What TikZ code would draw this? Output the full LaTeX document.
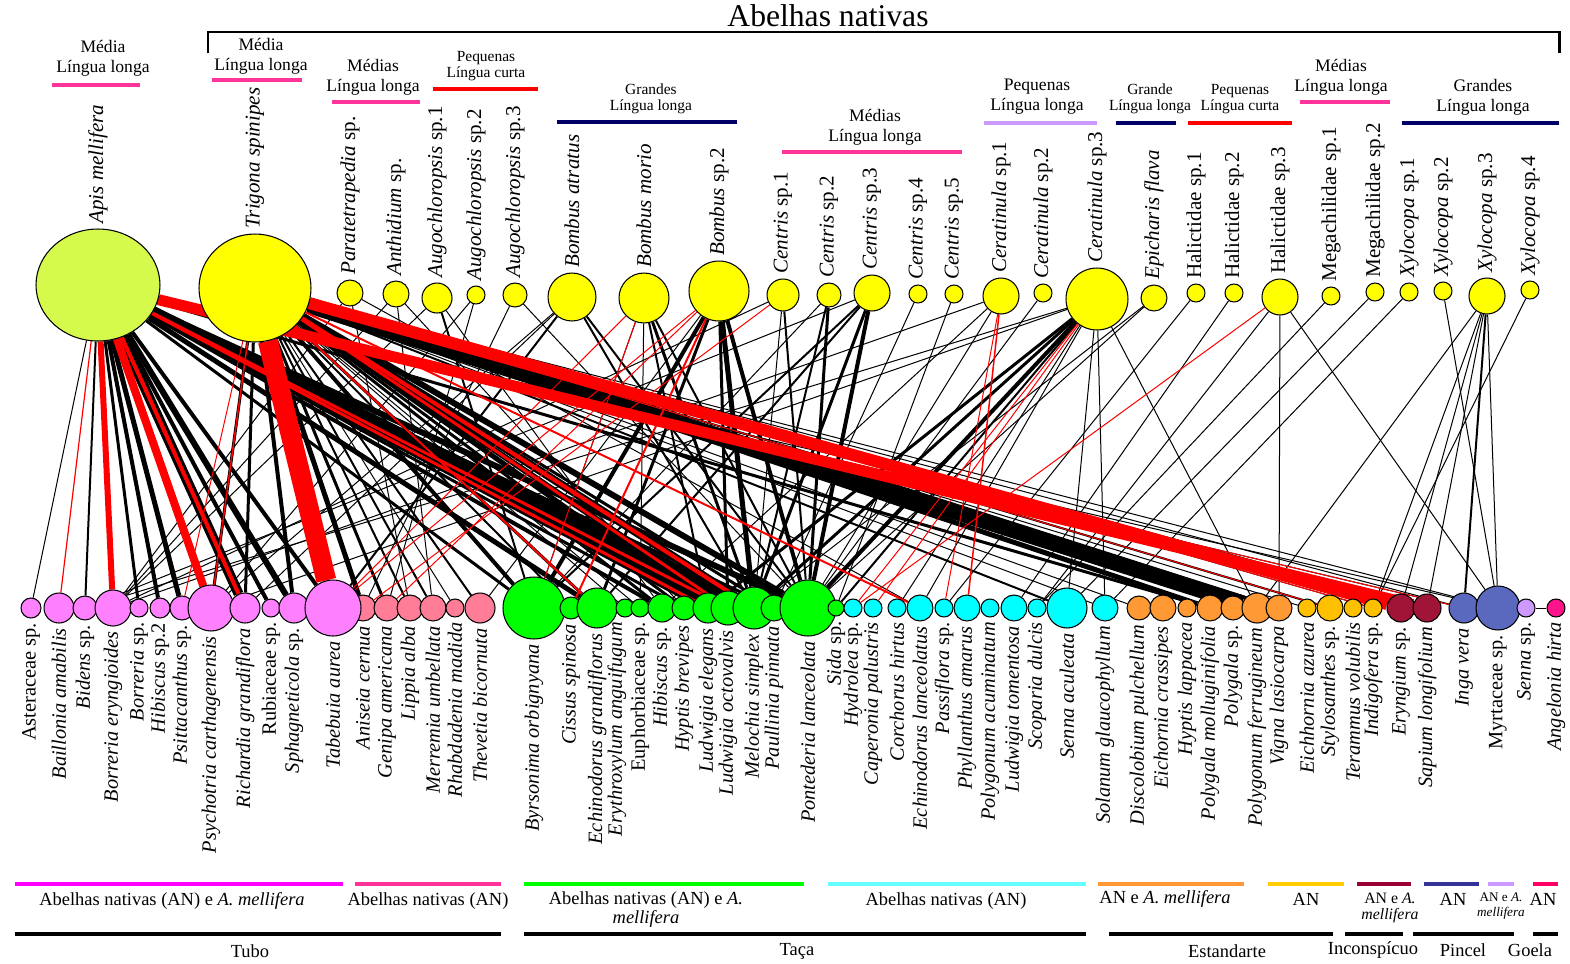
\documentclass[tikz,border=0pt]{standalone}
\usepackage{fontspec}
\setmainfont{Liberation Serif}
\usetikzlibrary{shapes.geometric}
\pgfdeclarelayer{edges}
\pgfsetlayers{edges,main}

\definecolor{apisgreen}{RGB}{214,250,76}
\definecolor{beeyellow}{RGB}{255,255,0}
\definecolor{tuboa}{RGB}{255,128,255}
\definecolor{tubob}{RGB}{255,125,150}
\definecolor{tacaa}{RGB}{0,255,0}
\definecolor{tacab}{RGB}{0,255,255}
\definecolor{estaa}{RGB}{255,153,51}
\definecolor{estab}{RGB}{255,192,0}
\definecolor{incon}{RGB}{160,20,55}
\definecolor{pina}{RGB}{90,105,190}
\definecolor{pinb}{RGB}{204,153,255}
\definecolor{goela}{RGB}{255,20,140}
\definecolor{magbar}{RGB}{255,0,255}
\definecolor{pinkbar}{RGB}{255,51,153}
\definecolor{greenbar}{RGB}{0,255,0}
\definecolor{cyanbar}{RGB}{102,255,255}
\definecolor{orangebar}{RGB}{255,153,51}
\definecolor{goldbar}{RGB}{255,204,0}
\definecolor{maroonbar}{RGB}{153,0,51}
\definecolor{navybar}{RGB}{51,51,153}
\definecolor{lavbar}{RGB}{204,153,255}
\definecolor{dpinkbar}{RGB}{255,0,102}
\definecolor{navyhead}{RGB}{0,0,102}

\tikzset{
    bee/.style={circle,draw,line width=0.6pt,inner sep=0pt,fill=beeyellow,minimum size=#1*0.04cm},
    bigbee/.style={ellipse,draw,line width=0.6pt,inner sep=0pt},
    plant/.style 2 args={circle,draw,line width=0.6pt,inner sep=0pt,fill=#2,minimum size=#1*0.04cm},
    toplab/.style={rotate=90,anchor=west,inner sep=2.5pt,font=\fontsize{12}{14}\selectfont},
    botlab/.style={rotate=90,anchor=east,inner sep=2.5pt,font=\fontsize{11.6}{14}\selectfont},
    grp/.style={align=center,inner sep=0pt,font=\fontsize{10}{11.5}\selectfont},
    grpsm/.style={align=center,inner sep=0pt,font=\fontsize{8.8}{9.4}\selectfont},
    hbar/.style={draw=#1,line width=2.8pt},
    lnk/.style={draw=black,line width=#1*0.57pt},
    rlnk/.style={draw=red,line width=#1*0.57pt},
    note/.style={align=center,inner sep=0pt,font=\fontsize{10.5}{10.8}\selectfont},
    notesm/.style={align=center,inner sep=0pt,font=\fontsize{9}{9}\selectfont},
    notexs/.style={align=center,inner sep=0pt,font=\fontsize{7.5}{9}\selectfont},
}

\begin{document}
\begin{tikzpicture}[x=0.02cm,y=-0.02cm]
    \useasboundingbox (0,0) rectangle (1570,964);

    % title and bracket
    \node[font=\fontsize{18}{20}\selectfont] (title) at (828,16) {Abelhas nativas};
    \draw[line width=1.7pt] (208,53) -- (208,32) -- (1559,32) -- (1559,53);

    % group headers
    \node[grp] (h1) at (103,58) {Média\\Língua longa};
    \draw[hbar=pinkbar] (52,85) -- (140,85);
    \node[grp] (h2) at (261,56) {Média\\Língua longa};
    \draw[hbar=pinkbar] (212,80) -- (302,80);
    \node[grp] (h3) at (373,77) {Médias\\Língua longa};
    \draw[hbar=pinkbar] (332,102) -- (420,102);
    \node[grpsm] (h4) at (486,66) {Pequenas\\Língua curta};
    \draw[hbar=red] (433,89) -- (538,89);
    \node[grpsm] (h5) at (651,99) {Grandes\\Língua longa};
    \draw[hbar=navyhead] (557,122) -- (737,122);
    \node[grp] (h6) at (875,127) {Médias\\Língua longa};
    \draw[hbar=pinkbar] (782,152) -- (962,152);
    \node[grp] (h7) at (1037,97) {Pequenas\\Língua longa};
    \draw[hbar=lavbar] (984,123) -- (1097,123);
    \node[grpsm] (h8) at (1150,99) {Grande\\Língua longa};
    \draw[hbar=navyhead] (1116,123) -- (1176,123);
    \node[grpsm] (h9) at (1240,99) {Pequenas\\Língua curta};
    \draw[hbar=red] (1188,123) -- (1292,123);
    \node[grp] (h10) at (1341,77) {Médias\\Língua longa};
    \draw[hbar=pinkbar] (1300,102) -- (1390,102);
    \node[grp] (h11) at (1483,97) {Grandes\\Língua longa};
    \draw[hbar=navyhead] (1402,123) -- (1559,123);

    % bees
    \node[bigbee,fill=apisgreen,minimum width=2.48cm,minimum height=2.24cm] (am) at (98,285) {};
    \node[bigbee,fill=beeyellow,minimum width=2.24cm,minimum height=2.16cm] (ts) at (255,288) {};
    \node[bee=13] (para) at (350,293) {};
    \node[bee=13] (anth) at (396,294) {};
    \node[bee=15] (aug1) at (437,298) {};
    \node[bee=9] (aug2) at (476,295) {};
    \node[bee=12] (aug3) at (515,295) {};
    \node[bee=24] (batr) at (572,297) {};
    \node[bee=25] (bmor) at (644,298) {};
    \node[bee=30] (bsp2) at (719,291) {};
    \node[bee=16] (cen1) at (783,295) {};
    \node[bee=12] (cen2) at (829,295) {};
    \node[bee=18] (cen3) at (872,293) {};
    \node[bee=9] (cen4) at (918,294) {};
    \node[bee=9] (cen5) at (954,294) {};
    \node[bee=18] (cer1) at (1001,296) {};
    \node[bee=9] (cer2) at (1043,293) {};
    \node[bee=31] (cer3) at (1097,299) {};
    \node[bee=13] (epi) at (1154,298) {};
    \node[bee=9] (hal1) at (1196,293) {};
    \node[bee=9] (hal2) at (1234,293) {};
    \node[bee=18] (hal3) at (1280,297) {};
    \node[bee=9] (meg1) at (1331,296) {};
    \node[bee=9] (meg2) at (1375,292) {};
    \node[bee=9] (xyl1) at (1409,292) {};
    \node[bee=9] (xyl2) at (1443,291) {};
    \node[bee=18] (xyl3) at (1487,296) {};
    \node[bee=9] (xyl4) at (1530,290) {};

    \node[toplab] (am-l) at (am.north) {\textit{Apis mellifera}};
    \node[toplab] (ts-l) at (ts.north) {\textit{Trigona spinipes}};
    \node[toplab] (para-l) at (para.north) {\textit{Paratetrapedia} sp.};
    \node[toplab] (anth-l) at (anth.north) {\textit{Anthidium} sp.};
    \node[toplab] (aug1-l) at (aug1.north) {\textit{Augochloropsis} sp.1};
    \node[toplab] (aug2-l) at (aug2.north) {\textit{Augochloropsis} sp.2};
    \node[toplab] (aug3-l) at (aug3.north) {\textit{Augochloropsis} sp.3};
    \node[toplab] (batr-l) at (batr.north) {\textit{Bombus atratus}};
    \node[toplab] (bmor-l) at (bmor.north) {\textit{Bombus morio}};
    \node[toplab] (bsp2-l) at (bsp2.north) {\textit{Bombus} sp.2};
    \node[toplab] (cen1-l) at (cen1.north) {\textit{Centris} sp.1};
    \node[toplab] (cen2-l) at (cen2.north) {\textit{Centris} sp.2};
    \node[toplab] (cen3-l) at (cen3.north) {\textit{Centris} sp.3};
    \node[toplab] (cen4-l) at (cen4.north) {\textit{Centris} sp.4};
    \node[toplab] (cen5-l) at (cen5.north) {\textit{Centris} sp.5};
    \node[toplab] (cer1-l) at (cer1.north) {\textit{Ceratinula} sp.1};
    \node[toplab] (cer2-l) at (cer2.north) {\textit{Ceratinula} sp.2};
    \node[toplab] (cer3-l) at (cer3.north) {\textit{Ceratinula} sp.3};
    \node[toplab] (epi-l) at (epi.north) {\textit{Epicharis flava}};
    \node[toplab] (hal1-l) at (hal1.north) {Halictidae sp.1};
    \node[toplab] (hal2-l) at (hal2.north) {Halictidae sp.2};
    \node[toplab] (hal3-l) at (hal3.north) {Halictidae sp.3};
    \node[toplab] (meg1-l) at (meg1.north) {Megachilidae sp.1};
    \node[toplab] (meg2-l) at (meg2.north) {Megachilidae sp.2};
    \node[toplab] (xyl1-l) at (xyl1.north) {\textit{Xylocopa} sp.1};
    \node[toplab] (xyl2-l) at (xyl2.north) {\textit{Xylocopa} sp.2};
    \node[toplab] (xyl3-l) at (xyl3.north) {\textit{Xylocopa} sp.3};
    \node[toplab] (xyl4-l) at (xyl4.north) {\textit{Xylocopa} sp.4};

    % plants
    \node[plant={10}{tuboa}] (ast) at (31,608) {};
    \node[plant={15}{tuboa}] (bai) at (59,608) {};
    \node[plant={12}{tuboa}] (bid) at (85,608) {};
    \node[plant={18}{tuboa}] (boe) at (113,608) {};
    \node[plant={9}{tuboa}] (bor) at (139,608) {};
    \node[plant={10}{tuboa}] (hib2) at (160,608) {};
    \node[plant={12}{tuboa}] (psi) at (182,608) {};
    \node[plant={23}{tuboa}] (psy) at (211,608) {};
    \node[plant={15}{tuboa}] (ric) at (245,608) {};
    \node[plant={9}{tuboa}] (rub) at (271,608) {};
    \node[plant={15}{tuboa}] (sph) at (294,608) {};
    \node[plant={13}{tubob}] (ani) at (363,608) {};
    \node[plant={28}{tuboa}] (tab) at (333,608) {};
    \node[plant={13}{tubob}] (gen) at (387,608) {};
    \node[plant={13}{tubob}] (lip) at (410,608) {};
    \node[plant={13}{tubob}] (mer) at (433,608) {};
    \node[plant={9}{tubob}] (rha) at (455,608) {};
    \node[plant={15}{tubob}] (the) at (480,608) {};
    \node[plant={31}{tacaa}] (byr) at (534,608) {};
    \node[plant={11}{tacaa}] (cis) at (571,608) {};
    \node[plant={20}{tacaa}] (ech) at (597,608) {};
    \node[plant={9}{tacaa}] (ery) at (625,608) {};
    \node[plant={9}{tacaa}] (eup) at (640,608) {};
    \node[plant={14}{tacaa}] (hib) at (662,608) {};
    \node[plant={12}{tacaa}] (hyb) at (684,608) {};
    \node[plant={15}{tacaa}] (lue) at (708,608) {};
    \node[plant={17}{tacaa}] (luo) at (728,608) {};
    \node[plant={21}{tacaa}] (mel) at (754,608) {};
    \node[plant={13}{tacaa}] (pau) at (774,608) {};
    \node[plant={28}{tacaa}] (pon) at (808,608) {};
    \node[plant={8}{tacaa}] (sid) at (836,608) {};
    \node[plant={9}{tacab}] (hyd) at (853,608) {};
    \node[plant={9}{tacab}] (cap) at (873,608) {};
    \node[plant={9}{tacab}] (cor) at (897,608) {};
    \node[plant={13}{tacab}] (ecl) at (920,608) {};
    \node[plant={9}{tacab}] (pas) at (944,608) {};
    \node[plant={13}{tacab}] (phy) at (967,608) {};
    \node[plant={9}{tacab}] (pol) at (990,608) {};
    \node[plant={13}{tacab}] (lut) at (1014,608) {};
    \node[plant={9}{tacab}] (sco) at (1037,608) {};
    \node[plant={20}{tacab}] (sea) at (1067,608) {};
    \node[plant={13}{tacab}] (sol) at (1105,608) {};
    \node[plant={12}{estaa}] (dis) at (1139,608) {};
    \node[plant={13}{estaa}] (eic) at (1163,608) {};
    \node[plant={9}{estaa}] (hyl) at (1187,608) {};
    \node[plant={13}{estaa}] (pmo) at (1210,608) {};
    \node[plant={12}{estaa}] (psp) at (1233,608) {};
    \node[plant={15}{estaa}] (pfe) at (1257,608) {};
    \node[plant={13}{estaa}] (vig) at (1279,608) {};
    \node[plant={9}{estab}] (eaz) at (1307,608) {};
    \node[plant={13}{estab}] (sty) at (1330,608) {};
    \node[plant={9}{estab}] (ter) at (1353,608) {};
    \node[plant={9}{estab}] (ind) at (1373,608) {};
    \node[plant={14}{incon}] (eryn) at (1401,608) {};
    \node[plant={14}{incon}] (sap) at (1427,608) {};
    \node[plant={15}{pina}] (inga) at (1464,608) {};
    \node[plant={22}{pina}] (myr) at (1498,608) {};
    \node[plant={9}{pinb}] (sen) at (1526,608) {};
    \node[plant={9}{goela}] (ang) at (1556,608) {};

    \node[botlab] (ast-l) at (ast.south) {Asteraceae sp.};
    \node[botlab] (bai-l) at (bai.south) {\textit{Baillonia amabilis}};
    \node[botlab] (bid-l) at (bid.south) {\textit{Bidens} sp.};
    \node[botlab] (boe-l) at (boe.south) {\textit{Borreria eryngioides}};
    \node[botlab] (bor-l) at (bor.south) {\textit{Borreria} sp.};
    \node[botlab] (hib2-l) at (hib2.south) {\textit{Hibiscus} sp.2};
    \node[botlab] (psi-l) at (psi.south) {\textit{Psittacanthus} sp.};
    \node[botlab] (psy-l) at (psy.south) {\textit{Psychotria carthagenensis}};
    \node[botlab] (ric-l) at (ric.south) {\textit{Richardia grandiflora}};
    \node[botlab] (rub-l) at (rub.south) {Rubiaceae sp.};
    \node[botlab] (sph-l) at (sph.south) {\textit{Sphagneticola} sp.};
    \node[botlab] (tab-l) at (tab.south) {\textit{Tabebuia aurea}};
    \node[botlab] (ani-l) at (ani.south) {\textit{Aniseia cernua}};
    \node[botlab] (gen-l) at (gen.south) {\textit{Genipa americana}};
    \node[botlab] (lip-l) at (lip.south) {\textit{Lippia alba}};
    \node[botlab] (mer-l) at (mer.south) {\textit{Merremia umbellata}};
    \node[botlab] (rha-l) at (rha.south) {\textit{Rhabdadenia madida}};
    \node[botlab] (the-l) at (the.south) {\textit{Thevetia bicornuta}};
    \node[botlab] (byr-l) at (byr.south) {\textit{Byrsonima orbignyana}};
    \node[botlab] (cis-l) at (cis.south) {\textit{Cissus spinosa}};
    \node[botlab] (ech-l) at (ech.south) {\textit{Echinodorus grandiflorus}};
    \node[botlab] (ery-l) at ([xshift=-0.16cm]ery.south) {\textit{Erythroxylum anguifugum}};
    \node[botlab] (eup-l) at (eup.south) {Euphorbiaceae sp.};
    \node[botlab] (hib-l) at (hib.south) {\textit{Hibiscus} sp.};
    \node[botlab] (hyb-l) at (hyb.south) {\textit{Hyptis brevipes}};
    \node[botlab] (lue-l) at (lue.south) {\textit{Ludwigia elegans}};
    \node[botlab] (luo-l) at (luo.south) {\textit{Ludwigia octovalvis}};
    \node[botlab] (mel-l) at (mel.south) {\textit{Melochia simplex}};
    \node[botlab] (pau-l) at (pau.south) {\textit{Paullinia pinnata}};
    \node[botlab] (pon-l) at (pon.south) {\textit{Pontederia lanceolata}};
    \node[botlab] (sid-l) at (sid.south) {\textit{Sida} sp.};
    \node[botlab] (hyd-l) at (hyd.south) {\textit{Hydrolea} sp.};
    \node[botlab] (cap-l) at (cap.south) {\textit{Caperonia palustris}};
    \node[botlab] (cor-l) at (cor.south) {\textit{Corchorus hirtus}};
    \node[botlab] (ecl-l) at (ecl.south) {\textit{Echinodorus lanceolatus}};
    \node[botlab] (pas-l) at (pas.south) {\textit{Passiflora} sp.};
    \node[botlab] (phy-l) at (phy.south) {\textit{Phyllanthus amarus}};
    \node[botlab] (pol-l) at (pol.south) {\textit{Polygonum acuminatum}};
    \node[botlab] (lut-l) at (lut.south) {\textit{Ludwigia tomentosa}};
    \node[botlab] (sco-l) at (sco.south) {\textit{Scoparia dulcis}};
    \node[botlab] (sea-l) at (sea.south) {\textit{Senna aculeata}};
    \node[botlab] (sol-l) at (sol.south) {\textit{Solanum glaucophyllum}};
    \node[botlab] (dis-l) at (dis.south) {\textit{Discolobium pulchellum}};
    \node[botlab] (eic-l) at (eic.south) {\textit{Eichornia crassipes}};
    \node[botlab] (hyl-l) at (hyl.south) {\textit{Hyptis lappacea}};
    \node[botlab] (pmo-l) at (pmo.south) {\textit{Polygala molluginifolia}};
    \node[botlab] (psp-l) at (psp.south) {\textit{Polygala} sp.};
    \node[botlab] (pfe-l) at (pfe.south) {\textit{Polygonum ferrugineum}};
    \node[botlab] (vig-l) at (vig.south) {\textit{Vigna lasiocarpa}};
    \node[botlab] (eaz-l) at (eaz.south) {\textit{Eichhornia azurea}};
    \node[botlab] (sty-l) at (sty.south) {\textit{Stylosanthes} sp.};
    \node[botlab] (ter-l) at (ter.south) {\textit{Terammus volubilis}};
    \node[botlab] (ind-l) at (ind.south) {\textit{Indigofera} sp.};
    \node[botlab] (eryn-l) at (eryn.south) {\textit{Eryngium} sp.};
    \node[botlab] (sap-l) at (sap.south) {\textit{Sapium longifolium}};
    \node[botlab] (inga-l) at (inga.south) {\textit{Inga vera}};
    \node[botlab] (myr-l) at (myr.south) {Myrtaceae sp.};
    \node[botlab] (sen-l) at (sen.south) {\textit{Senna} sp.};
    \node[botlab] (ang-l) at (ang.south) {\textit{Angelonia hirta}};

    % interactions
    \begin{pgfonlayer}{edges}
    \draw[lnk=1] (am) -- (ast);
    \draw[lnk=2] (am) -- (bid);
    \draw[lnk=3] (am) -- (bor);
    \draw[lnk=4] (am) -- (hib2);
    \draw[lnk=5] (am) -- (psi);
    \draw[lnk=6] (am) -- (psy);
    \draw[lnk=10] (am) -- (ric);
    \draw[lnk=4] (am) -- (rub);
    \draw[lnk=6] (am) -- (sph);
    \draw[lnk=4] (am) -- (tab);
    \draw[lnk=3] (am) -- (byr);
    \draw[lnk=5] (am) -- (ech);
    \draw[lnk=4] (am) -- (hib);
    \draw[lnk=3] (am) -- (hyb);
    \draw[lnk=8] (am) -- (lue);
    \draw[lnk=10] (am) -- (luo);
    \draw[lnk=12] (am) -- (mel);
    \draw[lnk=3] (am) -- (pau);
    \draw[lnk=6] (am) -- (pon);
    \draw[lnk=3] (am) -- (pmo);
    \draw[lnk=1] (am) -- (myr);
    \draw[lnk=1] (am) -- (inga);
    \draw[lnk=3] (ts) -- (psy);
    \draw[lnk=3] (ts) -- (ric);
    \draw[lnk=4] (ts) -- (sph);
    \draw[lnk=5] (ts) -- (ani);
    \draw[lnk=3] (ts) -- (gen);
    \draw[lnk=2] (ts) -- (lip);
    \draw[lnk=2] (ts) -- (mer);
    \draw[lnk=1] (ts) -- (rha);
    \draw[lnk=2] (ts) -- (the);
    \draw[lnk=4] (ts) -- (byr);
    \draw[lnk=2] (ts) -- (cis);
    \draw[lnk=3] (ts) -- (ech);
    \draw[lnk=1] (ts) -- (ery);
    \draw[lnk=1] (ts) -- (eup);
    \draw[lnk=3] (ts) -- (hib);
    \draw[lnk=3] (ts) -- (hyb);
    \draw[lnk=5] (ts) -- (lue);
    \draw[lnk=6] (ts) -- (luo);
    \draw[lnk=8] (ts) -- (mel);
    \draw[lnk=3] (ts) -- (pau);
    \draw[lnk=6] (ts) -- (pon);
    \draw[lnk=16] (ts) -- (pfe);
    \draw[lnk=5] (ts) -- (pmo);
    \draw[lnk=3] (ts) -- (vig);
    \draw[lnk=2] (ts) -- (sea);
    \draw[lnk=1] (ts) -- (sol);
    \draw[lnk=1] (ts) -- (dis);
    \draw[lnk=1] (ts) -- (eaz);
    \draw[lnk=2] (ts) -- (sty);
    \draw[lnk=1] (ts) -- (ind);
    \draw[lnk=1] (ts) -- (sap);
    \draw[lnk=1] (ts) -- (myr);
    \draw[lnk=1] (ts) -- (inga);
    \draw[lnk=1] (para) -- (boe);
    \draw[lnk=1] (para) -- (lip);
    \draw[lnk=1] (para) -- (ecl);
    \draw[lnk=1] (anth) -- (boe);
    \draw[lnk=1] (anth) -- (mer);
    \draw[lnk=1] (anth) -- (hyb);
    \draw[lnk=1] (aug1) -- (boe);
    \draw[lnk=2] (aug1) -- (byr);
    \draw[lnk=1] (aug1) -- (hib);
    \draw[lnk=1] (aug2) -- (gen);
    \draw[lnk=1] (aug2) -- (psy);
    \draw[lnk=1] (aug3) -- (ani);
    \draw[lnk=1] (aug3) -- (pon);
    \draw[lnk=1] (batr) -- (psy);
    \draw[lnk=2] (batr) -- (tab);
    \draw[lnk=1] (batr) -- (ric);
    \draw[lnk=2] (batr) -- (mel);
    \draw[lnk=2] (batr) -- (pon);
    \draw[lnk=1] (bmor) -- (byr);
    \draw[lnk=3] (bmor) -- (mel);
    \draw[lnk=2] (bmor) -- (lue);
    \draw[lnk=2] (bmor) -- (pon);
    \draw[lnk=1] (bmor) -- (eup);
    \draw[lnk=4] (bsp2) -- (byr);
    \draw[lnk=3] (bsp2) -- (ech);
    \draw[lnk=5] (bsp2) -- (mel);
    \draw[lnk=4] (bsp2) -- (pon);
    \draw[lnk=3] (bsp2) -- (luo);
    \draw[lnk=1] (bsp2) -- (the);
    \draw[lnk=2] (cen1) -- (pon);
    \draw[lnk=1] (cen1) -- (boe);
    \draw[lnk=1] (cen1) -- (mel);
    \draw[lnk=3] (cen2) -- (pon);
    \draw[lnk=2] (cen2) -- (mel);
    \draw[lnk=1] (cen2) -- (byr);
    \draw[lnk=4] (cen3) -- (pon);
    \draw[lnk=3] (cen3) -- (mel);
    \draw[lnk=2] (cen3) -- (ech);
    \draw[lnk=2] (cen3) -- (byr);
    \draw[lnk=1] (cen3) -- (bid);
    \draw[lnk=1] (cen4) -- (pau);
    \draw[lnk=1] (cen5) -- (sid);
    \draw[lnk=1] (cer1) -- (pon);
    \draw[lnk=1] (cer1) -- (boe);
    \draw[lnk=1] (cer1) -- (hib);
    \draw[lnk=1] (cer2) -- (pon);
    \draw[lnk=4] (cer3) -- (pon);
    \draw[lnk=3] (cer3) -- (mel);
    \draw[lnk=3] (cer3) -- (lue);
    \draw[lnk=2] (cer3) -- (sid);
    \draw[lnk=1] (cer3) -- (cor);
    \draw[lnk=1] (cer3) -- (sea);
    \draw[lnk=1] (cer3) -- (sol);
    \draw[lnk=1] (cer3) -- (pfe);
    \draw[lnk=1] (cer3) -- (bid);
    \draw[lnk=1] (cer3) -- (psy);
    \draw[lnk=1] (cer3) -- (ecl);
    \draw[lnk=1] (epi) -- (pon);
    \draw[lnk=1] (epi) -- (mel);
    \draw[lnk=1] (hal1) -- (pas);
    \draw[lnk=1] (hal2) -- (lut);
    \draw[lnk=1] (hal3) -- (vig);
    \draw[lnk=1] (hal3) -- (sco);
    \draw[lnk=1] (hal3) -- (myr);
    \draw[lnk=1] (meg1) -- (sco);
    \draw[lnk=1] (meg2) -- (sea);
    \draw[lnk=1] (xyl1) -- (sol);
    \draw[lnk=1] (xyl2) -- (myr);
    \draw[lnk=1] (xyl3) -- (sap);
    \draw[lnk=1] (xyl3) -- (eryn);
    \draw[lnk=2] (xyl3) -- (inga);
    \draw[lnk=1] (xyl3) -- (myr);
    \draw[lnk=1] (xyl3) -- (ind);
    \draw[lnk=1] (xyl3) -- (pfe);
    \draw[lnk=1] (xyl4) -- (ind);
    \draw[lnk=1] (sen) -- (ang);
    \draw[rlnk=1.2] (am) -- (bai);
    \draw[rlnk=6] (am) -- (boe);
    \draw[rlnk=8] (am) -- (psy);
    \draw[rlnk=4] (am) -- (ric);
    \draw[rlnk=3] (am) -- (lue);
    \draw[rlnk=3] (am) -- (luo);
    \draw[rlnk=11] (am) -- (sap);
    \draw[rlnk=1] (am) -- (inga);
    \draw[rlnk=20] (ts) -- (tab);
    \draw[rlnk=12] (ts) -- (eryn);
    \draw[rlnk=1] (ts) -- (psi);
    \draw[rlnk=1.5] (ts) -- (psy);
    \draw[rlnk=4] (ts) -- (mel);
    \draw[rlnk=3] (ts) -- (luo);
    \draw[rlnk=2] (ts) -- (ech);
    \draw[rlnk=2] (ts) -- (ecl);
    \draw[rlnk=1] (ts) -- (sty);
    \draw[rlnk=1] (ts) -- (ind);
    \draw[rlnk=1] (bmor) -- (tab);
    \draw[rlnk=1] (bmor) -- (byr);
    \draw[rlnk=1] (bsp2) -- (tab);
    \draw[rlnk=1] (bsp2) -- (gen);
    \draw[rlnk=2] (bsp2) -- (cis);
    \draw[rlnk=1] (cen1) -- (ani);
    \draw[rlnk=1.5] (cer1) -- (phy);
    \draw[rlnk=1] (cer1) -- (pas);
    \draw[rlnk=1] (cer3) -- (hyd);
    \draw[rlnk=1] (cer3) -- (cap);
    \draw[rlnk=1] (hal3) -- (hyd);
    \end{pgfonlayer}

    % flower types and visitors
    \draw[hbar=magbar] (15,884) -- (343,884);
    \draw[hbar=pinkbar] (355,884) -- (501,884);
    \draw[hbar=greenbar] (524,884) -- (804,884);
    \draw[hbar=cyanbar] (828,884) -- (1086,884);
    \draw[hbar=orangebar] (1098,884) -- (1244,884);
    \draw[hbar=goldbar] (1268,884) -- (1344,884);
    \draw[hbar=maroonbar] (1357,884) -- (1411,884);
    \draw[hbar=navybar] (1424,884) -- (1479,884);
    \draw[hbar=lavbar] (1488,884) -- (1514,884);
    \draw[hbar=dpinkbar] (1533,884) -- (1558,884);
    \node[note] (v1) at (172,901) {Abelhas nativas (AN) e \textit{A. mellifera}};
    \node[note] (v2) at (428,901) {Abelhas nativas (AN)};
    \node[note] (v3) at (646,910) {Abelhas nativas (AN) e \textit{A.}\\\textit{mellifera}};
    \node[note] (v4) at (946,901) {Abelhas nativas (AN)};
    \node[note] (v5) at (1165,899) {AN e \textit{A. mellifera}};
    \node[note] (v6) at (1306,899) {AN};
    \node[notesm] (v7) at (1390,908) {AN e \textit{A.}\\\textit{mellifera}};
    \node[note] (v8) at (1453,899) {AN};
    \node[notexs] (v9) at (1501,906) {AN e \textit{A.}\\\textit{mellifera}};
    \node[note] (v10) at (1543,899) {AN};

    \draw[hbar=black] (15,934) -- (501,934);
    \draw[hbar=black] (524,934) -- (1086,934);
    \draw[hbar=black] (1109,934) -- (1333,934);
    \draw[hbar=black] (1345,934) -- (1403,934);
    \draw[hbar=black] (1413,934) -- (1514,934);
    \draw[hbar=black] (1533,934) -- (1558,934);
    \node[note] (f1) at (250,951) {Tubo};
    \node[note] (f2) at (797,951) {Taça};
    \node[note] (f3) at (1227,951) {Estandarte};
    \node[note] (f4) at (1373,950) {Inconspícuo};
    \node[note] (f5) at (1463,950) {Pincel};
    \node[note] (f6) at (1530,950) {Goela};
\end{tikzpicture}
\end{document}
